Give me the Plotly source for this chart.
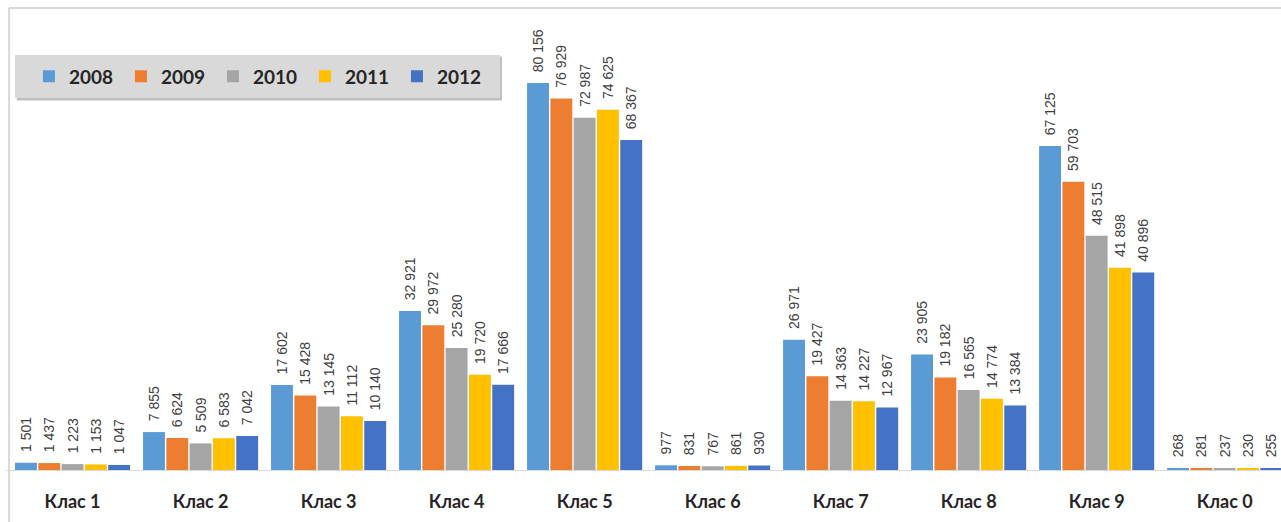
import plotly.graph_objects as go

categories = ["Клас 1", "Клас 2", "Клас 3", "Клас 4", "Клас 5", "Клас 6", "Клас 7", "Клас 8", "Клас 9", "Клас 0"]
years = ["2008", "2009", "2010", "2011", "2012"]
v2008 = [1501, 7855, 17602, 32921, 80156, 977, 26971, 23905, 67125, 268]
v2009 = [1437, 6624, 15428, 29972, 76929, 831, 19427, 19182, 59703, 281]
v2010 = [1223, 5509, 13145, 25280, 72987, 767, 14363, 16565, 48515, 237]
v2011 = [1153, 6583, 11112, 19720, 74625, 861, 14227, 14774, 41898, 230]
v2012 = [1047, 7042, 10140, 17666, 68367, 930, 12967, 13384, 40896, 255]
series = [v2008, v2009, v2010, v2011, v2012]
colors = ["#5B9BD5", "#ED7D31", "#A5A5A5", "#FFC000", "#4472C4"]

fig = go.Figure()
for name, vals, col in zip(years, series, colors):
    fig.add_trace(go.Bar(
        x=list(range(len(categories))), y=vals, name=name,
        marker=dict(color=col, line=dict(width=0)),
        texttemplate="\u00a0\u00a0%{y:,}", textposition="outside", textangle=-90,
        constraintext="none",
        textfont=dict(family="Liberation Sans Narrow, Arial Narrow, Liberation Sans", size=14, color="#404040"),
        cliponaxis=False,
    ))

fig.update_layout(
    width=1281, height=522,
    barmode="group", bargap=0.09, bargroupgap=0.06,
    separators=", ",
    paper_bgcolor="white", plot_bgcolor="white",
    margin=dict(l=6, r=0, t=8, b=52),
    showlegend=True,
    legend=dict(orientation="h", x=0.018, y=0.8517, xanchor="left", yanchor="middle",
                bgcolor="rgba(0,0,0,0)", borderwidth=0,
                font=dict(family="Lato, Liberation Sans", size=19, color="#262626", weight="bold"),
                itemwidth=30, traceorder="normal", entrywidth=47),
    xaxis=dict(tickmode="array", tickvals=list(range(len(categories))), ticktext=categories,
               range=[-0.52, 9.44], showgrid=False, zeroline=False,
               showline=True, linecolor="#D9D9D9", linewidth=1, ticks="",
               ticklabelstandoff=15,
               tickfont=dict(family="Lato, Liberation Sans", size=18, color="#262626", weight="bold")),
    yaxis=dict(range=[0, 95700], visible=False, showgrid=False),
    shapes=[
        dict(type="line", xref="paper", yref="paper", x0=0.0024, x1=0.0024, y0=-0.2, y1=1.0,
             line=dict(color="#D9D9D9", width=2)),
        dict(type="line", xref="paper", yref="paper", x0=0.0024, x1=1.0, y0=1.0, y1=1.0,
             line=dict(color="#D9D9D9", width=2)),
        dict(type="rect", xref="paper", yref="paper", x0=0.0085, x1=0.389, y0=0.800, y1=0.895,
             fillcolor="#BFBFBF", line=dict(width=0), layer="below"),
        dict(type="rect", xref="paper", yref="paper", x0=0.00706, x1=0.3875, y0=0.805, y1=0.898,
             fillcolor="#D9D9D9", line=dict(width=0), layer="below"),
    ],
)
fig.write_html("out.html", post_script="document.body.style.margin='0';",
               config={"displayModeBar": False})
